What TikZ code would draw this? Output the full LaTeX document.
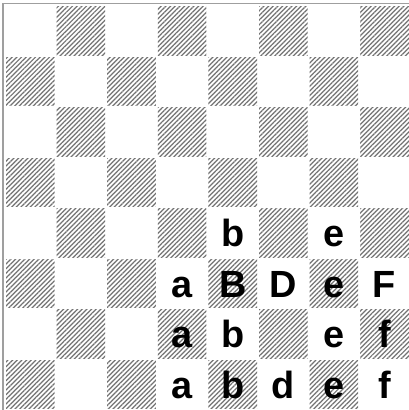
\documentclass[tikz,border=0pt]{standalone}
\usepackage{fontspec}
\setmainfont{Liberation Sans}
\usetikzlibrary{patterns.meta}

\tikzset{
  casa/.style={pattern={Lines[angle=45,distance=3.3bp,line width=1.2bp]},pattern color=black!55},
  lettera/.style={font=\fontsize{38}{38}\selectfont\bfseries,inner sep=0pt,text height=27bp,text depth=0pt}
}

\begin{document}
\begin{tikzpicture}[x=1bp,y=1bp]
  \fill[white] (0,0) rectangle (409,410);
  \useasboundingbox (0,0) rectangle (409,410);

  % scacchiera
  \foreach \r in {0,...,7}
    \foreach \c in {0,...,7}{
      \pgfmathtruncatemacro\p{mod(\r+\c,2)}
      \ifnum\p=1
        \fill[casa] ({5+50.6*\c+1},{404-50.5*(\r+1)+1}) rectangle ({5+50.6*(\c+1)-1},{404-50.5*\r-1});
      \fi
    }

  % bordo
  \draw[gray!75,line width=1.5bp] (3,0) -- (3,406.5) -- (409,406.5);

  % riga 5
  \node[lettera] (b5) at (232.7,176.75) {b};
  \node[lettera] (e5) at (333.9,176.75) {e};

  % riga 4
  \node[lettera] (a4) at (182.1,126.25) {a};
  \node[lettera] (B4) at (232.7,126.25) {B};
  \node[lettera] (D4) at (283.3,126.25) {D};
  \node[lettera] (e4) at (333.9,126.25) {e};
  \node[lettera] (F4) at (384.5,126.25) {F};

  % riga 3
  \node[lettera] (a3) at (182.1,75.75) {a};
  \node[lettera] (b3) at (232.7,75.75) {b};
  \node[lettera] (e3) at (333.9,75.75) {e};
  \node[lettera] (f3) at (384.5,75.75) {f};

  % riga 2
  \node[lettera] (a2) at (182.1,25.25) {a};
  \node[lettera] (b2) at (232.7,25.25) {b};
  \node[lettera] (d2) at (283.3,25.25) {d};
  \node[lettera] (e2) at (333.9,25.25) {e};
  \node[lettera] (f2) at (384.5,25.25) {f};
\end{tikzpicture}
\end{document}
